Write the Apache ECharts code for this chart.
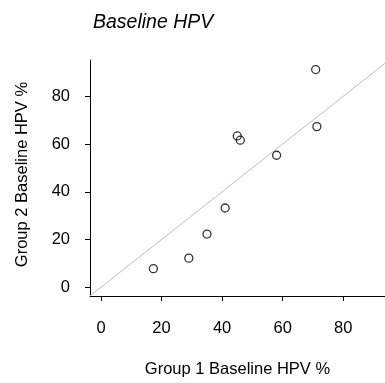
<!DOCTYPE html>
<html>
<head>
<meta charset="utf-8">
<script src="https://cdn.jsdelivr.net/npm/echarts@6/dist/echarts.min.js"></script>
<style>
  html, body { margin: 0; padding: 0; background: #fff; }
  #chart { width: 385px; height: 383px; }
</style>
</head>
<body>
<div id="chart"></div>
<script>
// values
const group1 = [17.3, 29.0, 35.0, 41.0, 45.0, 46.0, 58.0, 70.9, 71.3];
const group2 = [7.8, 12.2, 22.3, 33.2, 63.4, 61.6, 55.3, 91.2, 67.3];
const tickValues = [0, 20, 40, 60, 80];
const identityEnds = [-10, 110]; // y = x reference line

const points = group1.map((x, i) => [x, group2[i]]);
const diagonal = identityEnds.map(v => [v, v]);

const font = "'Liberation Sans', Arial, sans-serif";

const chart = echarts.init(document.getElementById("chart"));
chart.setOption({
  animation: false,
  title: {
    text: "Baseline HPV",
    left: 88,
    top: 8,
    textStyle: { fontFamily: font, fontStyle: "italic", fontWeight: "normal", fontSize: 19.5, color: "#000" }
  },
  grid: { left: 90, right: 0, top: 60, bottom: 85 },
  xAxis: {
    type: "value",
    min: -3.63,
    max: 93.8,
    name: "Group 1 Baseline HPV %",
    nameLocation: "middle",
    nameGap: 65,
    nameTextStyle: { fontFamily: font, fontSize: 16.5, color: "#000" },
    axisLine: { show: true, onZero: false, lineStyle: { color: "#000", width: 1 } },
    axisTick: { show: true, length: 5, customValues: tickValues, lineStyle: { color: "#000" } },
    axisLabel: { customValues: tickValues, margin: 24, fontFamily: font, fontSize: 16.5, color: "#000" },
    splitLine: { show: false }
  },
  yAxis: {
    type: "value",
    min: -3.66,
    max: 95.2,
    name: "Group 2 Baseline HPV %",
    nameLocation: "middle",
    nameGap: 59,
    nameTextStyle: { fontFamily: font, fontSize: 16.5, color: "#000", padding: [0, 0, 0, 7] },
    axisLine: { show: true, onZero: false, lineStyle: { color: "#000", width: 1 } },
    axisTick: { show: true, length: 5, customValues: tickValues, lineStyle: { color: "#000" } },
    axisLabel: { customValues: tickValues, margin: 20, fontFamily: font, fontSize: 16.5, color: "#000" },
    splitLine: { show: false }
  },
  series: [
    {
      type: "line",
      data: diagonal,
      clip: true,
      symbol: "none",
      lineStyle: { color: "#bebebe", width: 1 },
      silent: true
    },
    {
      type: "scatter",
      data: points,
      symbol: "circle",
      symbolSize: 8,
      itemStyle: { color: "rgba(0,0,0,0)", borderColor: "#000", borderWidth: 1.3 }
    }
  ]
});
</script>
</body>
</html>
